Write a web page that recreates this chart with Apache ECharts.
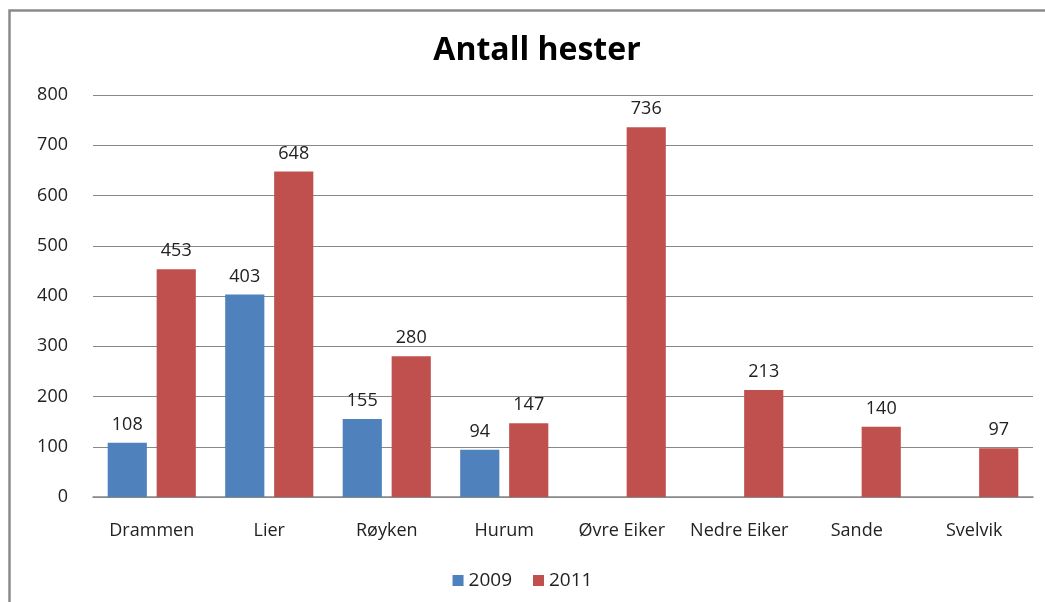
<!DOCTYPE html>
<html><head><meta charset="utf-8">
<script src="https://cdn.jsdelivr.net/npm/echarts@6/dist/echarts.min.js"></script>
<style>html,body{margin:0;padding:0;background:#fff}#c{width:1045px;height:602px}</style>
</head><body><div id="c"></div>
<script>
const categories = ['Drammen','Lier','Røyken','Hurum','Øvre Eiker','Nedre Eiker','Sande','Svelvik'];
const s2009 = [108, 403, 155, 94, null, null, null, null];
const s2011 = [453, 648, 280, 147, 736, 213, 140, 97];
const yTicks = {min: 0, max: 800, interval: 100};
const FONT = '"Open Sans", Lato, sans-serif';
const chart = echarts.init(document.getElementById('c'), null, {renderer: 'canvas'});
const lbl = {show: true, position: 'top', distance: 9, color: '#222', fontSize: 18, fontFamily: FONT};
chart.setOption({
  animation: false,
  backgroundColor: '#fff',
  title: {text: 'Antall hester', left: 532, textAlign: 'center', top: 30,
    textStyle: {fontSize: 32, fontWeight: 'bold', color: '#000', fontFamily: FONT}},
  graphic: [{type: 'polyline', shape: {points: [[9.5, 602], [9.5, 10.5], [1045, 10.5]]},
    style: {stroke: '#8a8a8a', lineWidth: 2.5, fill: null}}],
  legend: {bottom: 7, left: 'center', itemWidth: 11, itemHeight: 11, itemGap: 21, icon: 'rect',
    textStyle: {fontSize: 19, color: '#222', fontFamily: FONT}},
  grid: {left: 93, right: 12, top: 95, bottom: 105, containLabel: false},
  xAxis: {type: 'category', data: categories,
    axisLine: {lineStyle: {color: '#888', width: 1.5}}, axisTick: {show: false},
    axisLabel: {fontSize: 18, color: '#222', margin: 25, fontFamily: FONT, interval: 0}},
  yAxis: {type: 'value', min: yTicks.min, max: yTicks.max, interval: yTicks.interval,
    axisLine: {show: false}, axisTick: {show: false},
    splitLine: {lineStyle: {color: '#888', width: 1}},
    axisLabel: {fontSize: 18, color: '#222', margin: 25, fontFamily: FONT}},
  series: [
    {name: '2009', type: 'bar', data: s2009, itemStyle: {color: '#4F81BD'}, label: lbl,
      barGap: '25%', barCategoryGap: '25%'},
    {name: '2011', type: 'bar', data: s2011, itemStyle: {color: '#C0504D'}, label: lbl,
      barGap: '25%', barCategoryGap: '25%'}
  ]
});
</script></body></html>
